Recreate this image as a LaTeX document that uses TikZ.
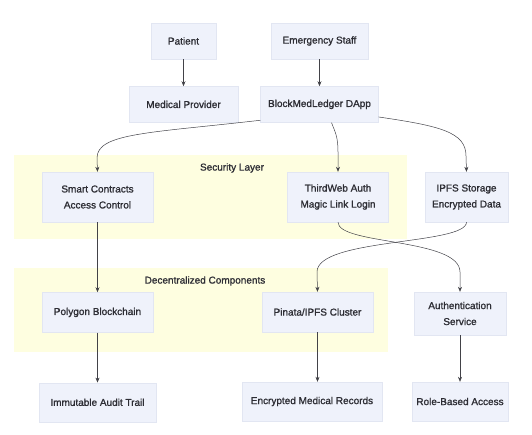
\documentclass[tikz,border=0pt]{standalone}
\usepackage{fontspec}
\setmainfont{Liberation Sans}
\newfontfamily\boxfont[FakeBold=1.2]{Liberation Sans}
\usetikzlibrary{positioning, arrows.meta, calc}
\definecolor{nodefill}{RGB}{239,242,251}
\definecolor{nodeline}{RGB}{226,230,242}
\definecolor{layerfill}{RGB}{254,254,224}
\definecolor{inkcolor}{RGB}{45,45,52}

\begin{document}
\begin{tikzpicture}[x=1pt, y=-1pt,
      box/.style={draw=nodeline, fill=nodefill, line width=0.4pt,
                  minimum height=36pt, inner xsep=0pt,
                  font=\boxfont\fontsize{10}{16}\selectfont, text=inkcolor, align=center},
      layer/.style={fill=layerfill, draw=none},
      lbl/.style={font=\boxfont\fontsize{10}{12}\selectfont, text=inkcolor},
      arr/.style={-{Stealth[length=5pt, width=4pt]}, line width=0.5pt, inkcolor!90}]
    \useasboundingbox (0,0) rectangle (532,434);
    % layers
    \path[layer] (14,155) rectangle (407,239);
    \path[layer] (14,268) rectangle (388,352);
    \node[lbl] (seclbl) at (232,168) {Security Layer};
    \node[lbl] (declbl) at (205,281) {Decentralized Components};
    % users and app
    \node[box, minimum width=65pt] (patient) at (183.5,41) {Patient};
    \node[box, minimum width=97pt] (staff) at (319.5,41) {Emergency Staff};
    \node[box, minimum width=109pt, below=27pt of patient] (provider) {Medical Provider};
    \node[box, minimum width=118pt, below=27pt of staff] (dapp) {BlockMedLedger DApp};
    % security layer
    \node[box, minimum width=111pt, minimum height=50pt] (smart) at (97.5,197) {Smart Contracts\\Access Control};
    \node[box, minimum width=101pt, minimum height=50pt] (thirdweb) at (338,197) {ThirdWeb Auth\\Magic Link Login};
    \node[box, minimum width=83pt, minimum height=50pt] (ipfs) at (466.5,197) {IPFS Storage\\Encrypted Data};
    % decentralized components
    \node[box, minimum width=111pt, minimum height=40pt, below=70pt of smart] (polygon) {Polygon Blockchain};
    \node[box, minimum width=111pt, minimum height=40pt] (pinata) at (317.5,312) {Pinata/IPFS Cluster};
    \node[box, minimum width=92pt, minimum height=43pt] (auth) at (460,313.5) {Authentication\\Service};
    % results
    \node[box, minimum width=117pt, minimum height=39pt, below=50pt of polygon] (audit) {Immutable Audit Trail};
    \node[box, minimum width=140pt, minimum height=39pt] (records) at (312,401.5) {Encrypted Medical Records};
    \node[box, minimum width=96pt, minimum height=39pt] (role) at (460,401.5) {Role-Based Access};
    % connectors
    \draw[arr] (patient) -- (provider);
    \draw[arr] (staff) -- (dapp);
    \draw[arr] (dapp.195) .. controls (150,133) and (97,133) .. (97,158) -- (smart.north);
    \draw[arr] ($(dapp.south)+(12,0)$) .. controls (335,132) and (338,136) .. (338,152) -- (thirdweb.north);
    \draw[arr] (dapp.-12) .. controls (440,126) and (466,132) .. (466,156) -- (ipfs.north);
    \draw[arr] (smart) -- (polygon);
    \draw[arr] (thirdweb.south) .. controls (338,245) and (460,238) .. (460,272) -- (auth.north);
    \draw[arr] (ipfs.south) .. controls (466,245) and (317,238) .. (317,272) -- (pinata.north);
    \draw[arr] (polygon) -- (audit);
    \draw[arr] (pinata.south) -- (pinata.south |- records.north);
    \draw[arr] (auth) -- (role);
  \end{tikzpicture}
\end{document}
